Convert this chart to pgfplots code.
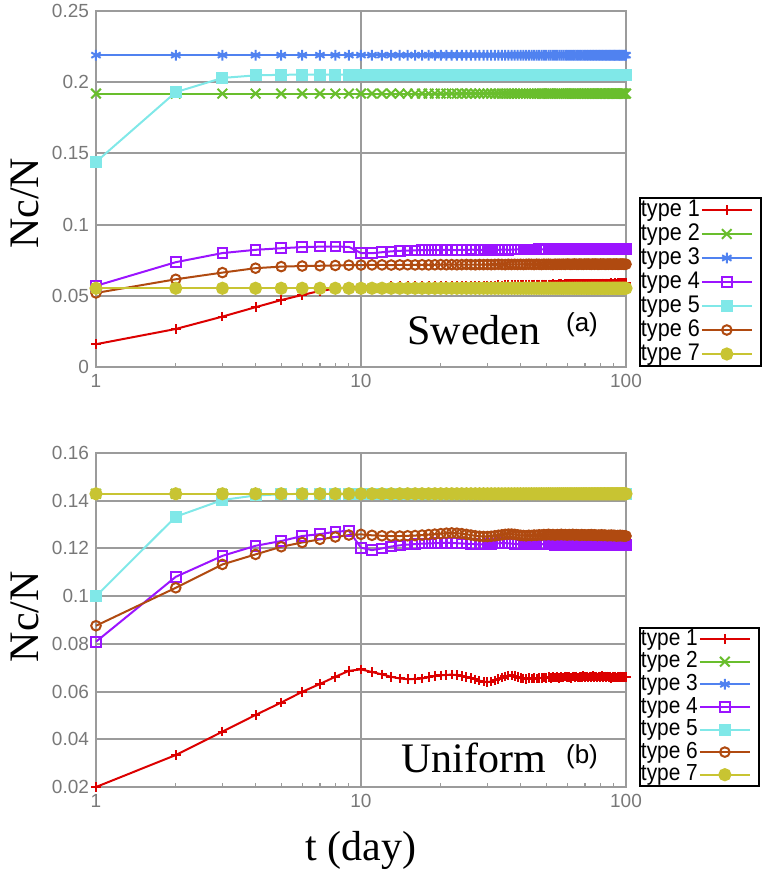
\documentclass[border=0pt]{standalone}
\usepackage{pgfplots}
\usepackage{pgfplotstable}
\pgfplotsset{compat=1.18}
\usepackage{fontspec}
\setmainfont{Liberation Serif}
\newfontfamily\tickfont{Liberation Sans}
\newfontfamily\legfont[FakeStretch=0.9]{Liberation Sans}
\definecolor{c1}{RGB}{220,0,0}
\definecolor{c2}{RGB}{105,190,45}
\definecolor{c3}{RGB}{80,130,240}
\definecolor{c4}{RGB}{155,20,255}
\definecolor{c5}{RGB}{128,232,232}
\definecolor{c6}{RGB}{176,74,16}
\definecolor{c7}{RGB}{200,196,50}
\definecolor{gridgray}{RGB}{155,155,155}
\definecolor{tickgray}{RGB}{120,120,120}

\pgfplotstableread{
t r g b p c o y
1 0.0160 0.192 0.219 0.0570 0.1440 0.0520 0.0553
2 0.0267 0.192 0.219 0.0736 0.1930 0.0616 0.0553
3 0.0354 0.192 0.219 0.0800 0.2030 0.0663 0.0553
4 0.0420 0.192 0.219 0.0823 0.2048 0.0694 0.0553
5 0.0470 0.192 0.219 0.0834 0.2052 0.0705 0.0553
6 0.0506 0.192 0.219 0.0842 0.2053 0.0709 0.0553
7 0.0534 0.192 0.219 0.0845 0.2053 0.0711 0.0553
8 0.0550 0.192 0.219 0.0845 0.2053 0.0713 0.0553
9 0.0560 0.192 0.219 0.0844 0.2053 0.0715 0.0553
10 0.0565 0.192 0.219 0.0800 0.2053 0.0716 0.0553
11 0.0566 0.192 0.219 0.0799 0.2053 0.0717 0.0553
12 0.0566 0.192 0.219 0.0806 0.2053 0.0717 0.0553
13 0.0567 0.192 0.219 0.0812 0.2053 0.0716 0.0553
14 0.0567 0.192 0.219 0.0816 0.2053 0.0717 0.0553
15 0.0568 0.192 0.219 0.0818 0.2053 0.0718 0.0553
16 0.0567 0.192 0.219 0.0819 0.2053 0.0717 0.0553
17 0.0568 0.192 0.219 0.0821 0.2053 0.0718 0.0553
18 0.0569 0.192 0.219 0.0820 0.2053 0.0717 0.0553
19 0.0568 0.192 0.219 0.0822 0.2053 0.0718 0.0553
20 0.0569 0.192 0.219 0.0821 0.2053 0.0719 0.0553
21 0.0570 0.192 0.219 0.0823 0.2053 0.0718 0.0553
22 0.0569 0.192 0.219 0.0822 0.2053 0.0719 0.0553
23 0.0570 0.192 0.219 0.0821 0.2053 0.0718 0.0553
24 0.0571 0.192 0.219 0.0823 0.2053 0.0719 0.0553
25 0.0570 0.192 0.219 0.0822 0.2053 0.0720 0.0553
26 0.0571 0.192 0.219 0.0824 0.2053 0.0719 0.0553
27 0.0572 0.192 0.219 0.0823 0.2053 0.0718 0.0553
28 0.0571 0.192 0.219 0.0822 0.2053 0.0720 0.0553
29 0.0572 0.192 0.219 0.0824 0.2053 0.0719 0.0553
30 0.0573 0.192 0.219 0.0823 0.2053 0.0720 0.0553
31 0.0572 0.192 0.219 0.0825 0.2053 0.0719 0.0553
32 0.0573 0.192 0.219 0.0824 0.2053 0.0720 0.0553
33 0.0574 0.192 0.219 0.0823 0.2053 0.0721 0.0553
34 0.0573 0.192 0.219 0.0825 0.2053 0.0720 0.0553
35 0.0575 0.192 0.219 0.0824 0.2053 0.0719 0.0553
36 0.0574 0.192 0.219 0.0823 0.2053 0.0721 0.0553
37 0.0575 0.192 0.219 0.0825 0.2053 0.0720 0.0553
38 0.0576 0.192 0.219 0.0824 0.2053 0.0721 0.0553
39 0.0575 0.192 0.219 0.0826 0.2053 0.0720 0.0553
40 0.0576 0.192 0.219 0.0825 0.2053 0.0721 0.0553
41 0.0577 0.192 0.219 0.0824 0.2053 0.0720 0.0553
42 0.0576 0.192 0.219 0.0826 0.2053 0.0721 0.0553
43 0.0578 0.192 0.219 0.0825 0.2053 0.0722 0.0553
44 0.0577 0.192 0.219 0.0824 0.2053 0.0721 0.0553
45 0.0578 0.192 0.219 0.0826 0.2053 0.0720 0.0553
46 0.0579 0.192 0.219 0.0825 0.2053 0.0722 0.0553
47 0.0578 0.192 0.219 0.0827 0.2053 0.0721 0.0553
48 0.0580 0.192 0.219 0.0826 0.2053 0.0720 0.0553
49 0.0579 0.192 0.219 0.0825 0.2053 0.0722 0.0553
50 0.0578 0.192 0.219 0.0827 0.2053 0.0721 0.0553
51 0.0580 0.192 0.219 0.0826 0.2053 0.0722 0.0553
52 0.0579 0.192 0.219 0.0825 0.2053 0.0721 0.0553
53 0.0581 0.192 0.219 0.0827 0.2053 0.0720 0.0553
54 0.0580 0.192 0.219 0.0826 0.2053 0.0722 0.0553
55 0.0579 0.192 0.219 0.0828 0.2053 0.0721 0.0553
56 0.0581 0.192 0.219 0.0827 0.2053 0.0722 0.0553
57 0.0582 0.192 0.219 0.0826 0.2053 0.0721 0.0553
58 0.0580 0.192 0.219 0.0828 0.2053 0.0722 0.0553
59 0.0582 0.192 0.219 0.0827 0.2053 0.0721 0.0553
60 0.0581 0.192 0.219 0.0826 0.2053 0.0723 0.0553
61 0.0583 0.192 0.219 0.0828 0.2053 0.0722 0.0553
62 0.0582 0.192 0.219 0.0827 0.2053 0.0721 0.0553
63 0.0581 0.192 0.219 0.0826 0.2053 0.0722 0.0553
64 0.0583 0.192 0.219 0.0828 0.2053 0.0723 0.0553
65 0.0584 0.192 0.219 0.0827 0.2053 0.0722 0.0553
66 0.0582 0.192 0.219 0.0829 0.2053 0.0721 0.0553
67 0.0584 0.192 0.219 0.0828 0.2053 0.0723 0.0553
68 0.0583 0.192 0.219 0.0827 0.2053 0.0722 0.0553
69 0.0585 0.192 0.219 0.0829 0.2053 0.0721 0.0553
70 0.0584 0.192 0.219 0.0828 0.2053 0.0723 0.0553
71 0.0583 0.192 0.219 0.0827 0.2053 0.0722 0.0553
72 0.0585 0.192 0.219 0.0829 0.2053 0.0723 0.0553
73 0.0584 0.192 0.219 0.0828 0.2053 0.0722 0.0553
74 0.0586 0.192 0.219 0.0827 0.2053 0.0721 0.0553
75 0.0584 0.192 0.219 0.0829 0.2053 0.0723 0.0553
76 0.0585 0.192 0.219 0.0828 0.2053 0.0722 0.0553
77 0.0586 0.192 0.219 0.0830 0.2053 0.0723 0.0553
78 0.0584 0.192 0.219 0.0828 0.2053 0.0722 0.0553
79 0.0586 0.192 0.219 0.0827 0.2053 0.0721 0.0553
80 0.0585 0.192 0.219 0.0829 0.2053 0.0723 0.0553
81 0.0587 0.192 0.219 0.0828 0.2053 0.0722 0.0553
82 0.0585 0.192 0.219 0.0830 0.2053 0.0723 0.0553
83 0.0586 0.192 0.219 0.0829 0.2053 0.0722 0.0553
84 0.0587 0.192 0.219 0.0828 0.2053 0.0721 0.0553
85 0.0585 0.192 0.219 0.0830 0.2053 0.0723 0.0553
86 0.0587 0.192 0.219 0.0829 0.2053 0.0722 0.0553
87 0.0586 0.192 0.219 0.0828 0.2053 0.0723 0.0553
88 0.0588 0.192 0.219 0.0830 0.2053 0.0722 0.0553
89 0.0586 0.192 0.219 0.0829 0.2053 0.0721 0.0553
90 0.0587 0.192 0.219 0.0828 0.2053 0.0723 0.0553
91 0.0588 0.192 0.219 0.0830 0.2053 0.0722 0.0553
92 0.0586 0.192 0.219 0.0829 0.2053 0.0723 0.0553
93 0.0588 0.192 0.219 0.0828 0.2053 0.0722 0.0553
94 0.0587 0.192 0.219 0.0830 0.2053 0.0721 0.0553
95 0.0589 0.192 0.219 0.0829 0.2053 0.0723 0.0553
96 0.0587 0.192 0.219 0.0828 0.2053 0.0722 0.0553
97 0.0588 0.192 0.219 0.0830 0.2053 0.0723 0.0553
98 0.0589 0.192 0.219 0.0829 0.2053 0.0722 0.0553
99 0.0587 0.192 0.219 0.0828 0.2053 0.0721 0.0553
100 0.0588 0.192 0.219 0.0829 0.2053 0.0722 0.0553
}\topdata

\pgfplotstableread{
t r g b p c o y
1 0.0200 0.1429 0.1429 0.0809 0.1000 0.0876 0.1429
2 0.0334 0.1429 0.1429 0.1081 0.1333 0.1035 0.1429
3 0.0432 0.1429 0.1429 0.1169 0.1403 0.1133 0.1429
4 0.0502 0.1429 0.1429 0.1211 0.1422 0.1175 0.1429
5 0.0554 0.1429 0.1429 0.1231 0.1427 0.1207 0.1429
6 0.0599 0.1429 0.1429 0.1252 0.1429 0.1225 0.1429
7 0.0632 0.1429 0.1429 0.1260 0.1429 0.1238 0.1429
8 0.0662 0.1429 0.1429 0.1270 0.1429 0.1248 0.1429
9 0.0687 0.1429 0.1429 0.1274 0.1429 0.1256 0.1429
10 0.0693 0.1429 0.1429 0.1203 0.1429 0.1259 0.1429
11 0.0682 0.1429 0.1429 0.1193 0.1429 0.1255 0.1429
12 0.0672 0.1429 0.1429 0.1200 0.1429 0.1253 0.1429
13 0.0662 0.1429 0.1429 0.1208 0.1429 0.1252 0.1429
14 0.0655 0.1429 0.1429 0.1213 0.1429 0.1252 0.1429
15 0.0652 0.1429 0.1429 0.1216 0.1429 0.1253 0.1429
16 0.0653 0.1429 0.1429 0.1218 0.1429 0.1254 0.1429
17 0.0655 0.1429 0.1429 0.1220 0.1429 0.1256 0.1429
18 0.0660 0.1429 0.1429 0.1221 0.1429 0.1258 0.1429
19 0.0665 0.1429 0.1429 0.1222 0.1429 0.1260 0.1429
20 0.0668 0.1429 0.1429 0.1223 0.1429 0.1262 0.1429
21 0.0670 0.1429 0.1429 0.1224 0.1429 0.1264 0.1429
22 0.0671 0.1429 0.1429 0.1223 0.1429 0.1265 0.1429
23 0.0669 0.1429 0.1429 0.1222 0.1429 0.1264 0.1429
24 0.0666 0.1429 0.1429 0.1221 0.1429 0.1262 0.1429
25 0.0661 0.1429 0.1429 0.1220 0.1429 0.1259 0.1429
26 0.0656 0.1429 0.1429 0.1219 0.1429 0.1256 0.1429
27 0.0651 0.1429 0.1429 0.1218 0.1429 0.1253 0.1429
28 0.0646 0.1429 0.1429 0.1217 0.1429 0.1251 0.1429
29 0.0642 0.1429 0.1429 0.1217 0.1429 0.1250 0.1429
30 0.0640 0.1429 0.1429 0.1218 0.1429 0.1250 0.1429
31 0.0642 0.1429 0.1429 0.1219 0.1429 0.1251 0.1429
32 0.0647 0.1429 0.1429 0.1220 0.1429 0.1253 0.1429
33 0.0653 0.1429 0.1429 0.1221 0.1429 0.1255 0.1429
34 0.0659 0.1429 0.1429 0.1222 0.1429 0.1257 0.1429
35 0.0664 0.1429 0.1429 0.1222 0.1429 0.1259 0.1429
36 0.0667 0.1429 0.1429 0.1221 0.1429 0.1260 0.1429
37 0.0668 0.1429 0.1429 0.1220 0.1429 0.1260 0.1429
38 0.0666 0.1429 0.1429 0.1219 0.1429 0.1259 0.1429
39 0.0662 0.1429 0.1429 0.1218 0.1429 0.1257 0.1429
40 0.0658 0.1429 0.1429 0.1217 0.1429 0.1255 0.1429
41 0.0655 0.1429 0.1429 0.1216 0.1429 0.1254 0.1429
42 0.0653 0.1429 0.1429 0.1218 0.1429 0.1253 0.1429
43 0.0656 0.1429 0.1429 0.1217 0.1429 0.1255 0.1429
44 0.0654 0.1429 0.1429 0.1219 0.1429 0.1254 0.1429
45 0.0657 0.1429 0.1429 0.1218 0.1429 0.1256 0.1429
46 0.0655 0.1429 0.1429 0.1216 0.1429 0.1255 0.1429
47 0.0658 0.1429 0.1429 0.1218 0.1429 0.1257 0.1429
48 0.0656 0.1429 0.1429 0.1217 0.1429 0.1256 0.1429
49 0.0659 0.1429 0.1429 0.1219 0.1429 0.1258 0.1429
50 0.0657 0.1429 0.1429 0.1217 0.1429 0.1257 0.1429
51 0.0660 0.1429 0.1429 0.1216 0.1429 0.1259 0.1429
52 0.0658 0.1429 0.1429 0.1218 0.1429 0.1257 0.1429
53 0.0661 0.1429 0.1429 0.1217 0.1429 0.1258 0.1429
54 0.0659 0.1429 0.1429 0.1215 0.1429 0.1256 0.1429
55 0.0662 0.1429 0.1429 0.1217 0.1429 0.1258 0.1429
56 0.0658 0.1429 0.1429 0.1216 0.1429 0.1257 0.1429
57 0.0661 0.1429 0.1429 0.1218 0.1429 0.1259 0.1429
58 0.0659 0.1429 0.1429 0.1216 0.1429 0.1257 0.1429
59 0.0663 0.1429 0.1429 0.1215 0.1429 0.1258 0.1429
60 0.0660 0.1429 0.1429 0.1217 0.1429 0.1256 0.1429
61 0.0662 0.1429 0.1429 0.1216 0.1429 0.1258 0.1429
62 0.0658 0.1429 0.1429 0.1218 0.1429 0.1257 0.1429
63 0.0663 0.1429 0.1429 0.1215 0.1429 0.1259 0.1429
64 0.0660 0.1429 0.1429 0.1217 0.1429 0.1256 0.1429
65 0.0664 0.1429 0.1429 0.1216 0.1429 0.1258 0.1429
66 0.0659 0.1429 0.1429 0.1214 0.1429 0.1257 0.1429
67 0.0662 0.1429 0.1429 0.1216 0.1429 0.1255 0.1429
68 0.0660 0.1429 0.1429 0.1215 0.1429 0.1258 0.1429
69 0.0665 0.1429 0.1429 0.1217 0.1429 0.1256 0.1429
70 0.0661 0.1429 0.1429 0.1215 0.1429 0.1257 0.1429
71 0.0663 0.1429 0.1429 0.1216 0.1429 0.1255 0.1429
72 0.0659 0.1429 0.1429 0.1214 0.1429 0.1257 0.1429
73 0.0664 0.1429 0.1429 0.1216 0.1429 0.1256 0.1429
74 0.0660 0.1429 0.1429 0.1215 0.1429 0.1258 0.1429
75 0.0666 0.1429 0.1429 0.1217 0.1429 0.1255 0.1429
76 0.0661 0.1429 0.1429 0.1214 0.1429 0.1257 0.1429
77 0.0663 0.1429 0.1429 0.1216 0.1429 0.1256 0.1429
78 0.0659 0.1429 0.1429 0.1215 0.1429 0.1254 0.1429
79 0.0664 0.1429 0.1429 0.1213 0.1429 0.1256 0.1429
80 0.0660 0.1429 0.1429 0.1215 0.1429 0.1255 0.1429
81 0.0665 0.1429 0.1429 0.1214 0.1429 0.1257 0.1429
82 0.0661 0.1429 0.1429 0.1216 0.1429 0.1254 0.1429
83 0.0663 0.1429 0.1429 0.1214 0.1429 0.1256 0.1429
84 0.0659 0.1429 0.1429 0.1215 0.1429 0.1255 0.1429
85 0.0664 0.1429 0.1429 0.1213 0.1429 0.1253 0.1429
86 0.0660 0.1429 0.1429 0.1215 0.1429 0.1255 0.1429
87 0.0663 0.1429 0.1429 0.1214 0.1429 0.1254 0.1429
88 0.0658 0.1429 0.1429 0.1216 0.1429 0.1256 0.1429
89 0.0662 0.1429 0.1429 0.1214 0.1429 0.1253 0.1429
90 0.0660 0.1429 0.1429 0.1215 0.1429 0.1255 0.1429
91 0.0664 0.1429 0.1429 0.1213 0.1429 0.1254 0.1429
92 0.0659 0.1429 0.1429 0.1215 0.1429 0.1252 0.1429
93 0.0662 0.1429 0.1429 0.1214 0.1429 0.1254 0.1429
94 0.0660 0.1429 0.1429 0.1216 0.1429 0.1253 0.1429
95 0.0663 0.1429 0.1429 0.1214 0.1429 0.1255 0.1429
96 0.0659 0.1429 0.1429 0.1215 0.1429 0.1253 0.1429
97 0.0662 0.1429 0.1429 0.1213 0.1429 0.1254 0.1429
98 0.0660 0.1429 0.1429 0.1215 0.1429 0.1252 0.1429
99 0.0661 0.1429 0.1429 0.1214 0.1429 0.1253 0.1429
100 0.0660 0.1429 0.1429 0.1215 0.1429 0.1252 0.1429
}\botdata

\tikzset{
  s1/.style={color=c1, mark=+, mark size=2.4pt, line width=1pt},
  s2/.style={color=c2, mark=x, mark size=3.4pt, line width=1pt},
  s3/.style={color=c3, mark=asterisk, mark size=2.7pt, line width=1pt},
  s4/.style={color=c4, mark=square, mark size=2.4pt, line width=1pt},
  s5/.style={color=c5, mark=square*, mark size=2.5pt, line width=1pt, mark options={fill=c5}},
  s6/.style={color=c6, mark=o, mark size=2.4pt, line width=1pt},
  s7/.style={color=c7, mark=*, mark size=2.8pt, line width=1pt, mark options={fill=c7}},
}

\begin{document}
\begin{tikzpicture}
\path[use as bounding box] (-48pt,-256.5pt) rectangle (337pt,183.5pt);
\begin{axis}[at={(0,0)}, anchor=south west,
  scale only axis, width=265pt, height=178pt,
  xmode=log, xmin=1, xmax=100, clip=false,
  xtick={1,10,100}, xticklabels={1,10,100},
  minor xtick={2,3,4,5,6,7,8,9,20,30,40,50,60,70,80,90},
  axis line style={gridgray, line width=1pt},
  grid=major, major grid style={gridgray, line width=1pt},
  major tick length=0pt, minor tick length=2.2pt,
  minor tick style={gridgray, line width=0.6pt},
  tick align=inside, tick pos=left,
  tick label style={font=\tickfont\fontsize{9.5}{10}\selectfont, text=tickgray},
  ymin=0, ymax=0.25,
  ytick={0,0.05,0.1,0.15,0.2,0.25},
  yticklabels={0,0.05,0.1,0.15,0.2,0.25},
  ylabel={Nc/N},
  ylabel style={at={(axis description cs:-0.134,0.46)}, anchor=center, font=\fontsize{21}{24}\selectfont},
  legend plot pos=right,
  legend cell align=left,
  legend image code/.code={%
      \draw[mark repeat=2,mark phase=2,#1] plot coordinates {(0pt,0pt)(12.5pt,0pt)(25pt,0pt)};
      \path (29pt,0pt);},
  legend style={at={(axis description cs:1.0245,0)}, anchor=south west,
    draw=black, line width=1pt, inner sep=0pt,
    font=\legfont\fontsize{12}{12}\selectfont, text=black,
    nodes={inner xsep=0.5pt, inner ysep=0pt, text height=9.1pt, text depth=2.9pt},
    /tikz/every even column/.append style={column sep=4pt},
    row sep=0pt},
]
\addplot[s1] table[x=t,y=r] {\topdata};
\addplot[s2] table[x=t,y=g] {\topdata};
\addplot[s3] table[x=t,y=b] {\topdata};
\addplot[s4] table[x=t,y=p] {\topdata};
\addplot[s5] table[x=t,y=c] {\topdata};
\addplot[s6] table[x=t,y=o] {\topdata};
\addplot[s7] table[x=t,y=y] {\topdata};
\legend{type 1,type 2,type 3,type 4,type 5,type 6,type 7}
\node at (axis description cs:0.713,0.104) {\fontsize{21}{24}\selectfont Sweden};
\node at (axis description cs:0.917,0.12) {\tickfont\fontsize{13}{15}\selectfont (a)};
\end{axis}

\begin{axis}[at={(0,-43pt)}, anchor=north west,
  scale only axis, width=265pt, height=167pt,
  xmode=log, xmin=1, xmax=100, clip=false,
  xtick={1,10,100}, xticklabels={1,10,100},
  minor xtick={2,3,4,5,6,7,8,9,20,30,40,50,60,70,80,90},
  axis line style={gridgray, line width=1pt},
  grid=major, major grid style={gridgray, line width=1pt},
  major tick length=0pt, minor tick length=2.2pt,
  minor tick style={gridgray, line width=0.6pt},
  tick align=inside, tick pos=left,
  tick label style={font=\tickfont\fontsize{9.5}{10}\selectfont, text=tickgray},
  ymin=0.02, ymax=0.16,
  ytick={0.02,0.04,0.06,0.08,0.1,0.12,0.14,0.16},
  yticklabels={0.02,0.04,0.06,0.08,0.1,0.12,0.14,0.16},
  ylabel={Nc/N},
  ylabel style={at={(axis description cs:-0.134,0.51)}, anchor=center, font=\fontsize{21}{24}\selectfont},
  xlabel={t (day)},
  xlabel style={at={(axis description cs:0.5,-0.19)}, anchor=center, font=\fontsize{21}{24}\selectfont},
  legend plot pos=right,
  legend cell align=left,
  legend image code/.code={%
      \draw[mark repeat=2,mark phase=2,#1] plot coordinates {(0pt,0pt)(12.5pt,0pt)(25pt,0pt)};
      \path (29pt,0pt);},
  legend style={at={(axis description cs:1.0245,0)}, anchor=south west,
    draw=black, line width=1pt, inner sep=0pt,
    font=\legfont\fontsize{11.6}{12}\selectfont, text=black,
    nodes={inner xsep=0.5pt, inner ysep=0pt, text height=8.7pt, text depth=2.6pt},
    /tikz/every even column/.append style={column sep=4pt},
    row sep=0pt},
]
\addplot[s1] table[x=t,y=r] {\botdata};
\addplot[s2] table[x=t,y=g] {\botdata};
\addplot[s3] table[x=t,y=b] {\botdata};
\addplot[s4] table[x=t,y=p] {\botdata};
\addplot[s5] table[x=t,y=c] {\botdata};
\addplot[s6] table[x=t,y=o] {\botdata};
\addplot[s7] table[x=t,y=y] {\botdata};
\legend{type 1,type 2,type 3,type 4,type 5,type 6,type 7}
\node at (axis description cs:0.712,0.087) {\fontsize{21}{24}\selectfont Uniform};
\node at (axis description cs:0.917,0.09) {\tickfont\fontsize{13}{15}\selectfont (b)};
\end{axis}
\end{tikzpicture}
\end{document}
